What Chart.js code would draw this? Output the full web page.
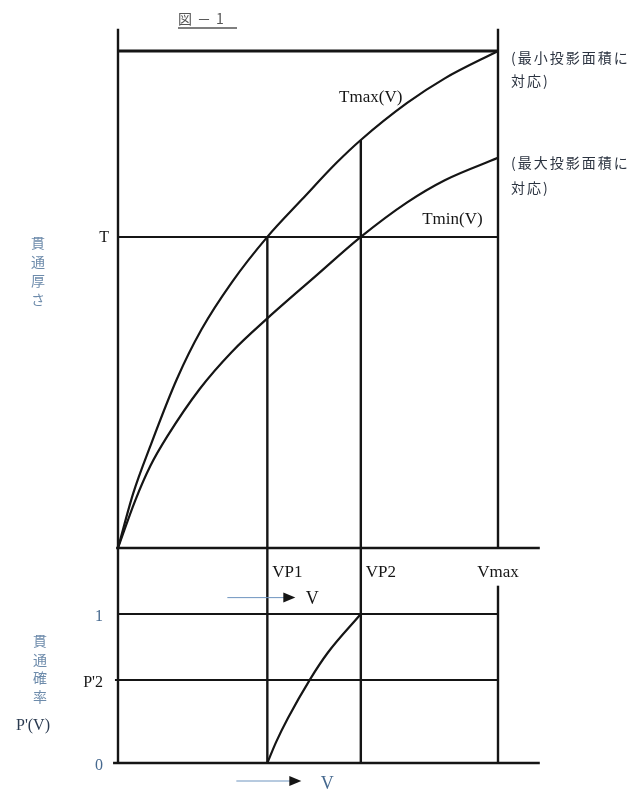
<!DOCTYPE html>
<html>
<head>
<meta charset="utf-8">
<title>図-1</title>
<script src="https://cdn.jsdelivr.net/npm/chart.js@4.4.0/dist/chart.umd.min.js"></script>
<style>
    html, body { margin: 0; padding: 0; background: #fff; }
    canvas { display: block; }
</style>
</head>
<body>
<canvas id="fig1" width="643" height="796"></canvas>
<script>

// 貫通厚さ curves, V runs from 0 to Vmax = 10
const tmaxV = [0, 0.4, 0.85, 1.55, 2.2, 3.0, 3.93, 4.85, 5.75, 6.39, 7.6, 8.6, 10]
const tmaxT = [0, 1.1, 2.05, 3.4, 4.4, 5.35, 6.26, 7.02, 7.75, 8.21, 8.95, 9.45, 10]

const tminV = [0, 0.45, 0.85, 1.3, 2.15, 3.0, 3.93, 5.2, 6.39, 7.6, 8.6, 10]
const tminT = [0, 0.95, 1.65, 2.25, 3.2, 3.95, 4.62, 5.47, 6.26, 6.95, 7.4, 7.85]

// 貫通確率 P'(V) between VP1 and VP2
const pV = [3.93, 4.16, 4.47, 5.05, 5.52, 6.39]
const pP = [0, 0.14, 0.3, 0.56, 0.74, 1.0]

// reference values / tick labels
const vTicks = [3.93, 6.39, 10]
const vTickLabels = ['VP1', 'VP2', 'Vmax']
const tTicks = [6.26]
const tTickLabels = ['T']
const pTicks = [1, 0.557, 0]
const pTickLabels = ['1', "P'2", '0']
const tTop = 10

const VP1 = vTicks[0], VP2 = vTicks[1], VMAX = vTicks[2]
const T = tTicks[0], P2 = pTicks[1]

const serif = '"Liberation Serif", "DejaVu Serif", serif'
const jp = '"Noto Sans CJK JP", sans-serif'
const ink = '#151515'
const blue = '#46698f'

function pts(xs, ys) {
    return xs.map((v, i) => ({ x: v, y: ys[i] }))
}

const drawFrame = {
    id: 'drawFrame',
    beforeDatasetsDraw(chart) {
        const ctx = chart.ctx
        const px = v => chart.scales.x.getPixelForValue(v)
        const pt = v => chart.scales.yT.getPixelForValue(v)
        const pp = v => chart.scales.yP.getPixelForValue(v)

        function line(x1, y1, x2, y2, w) {
            ctx.lineWidth = w
            ctx.beginPath()
            ctx.moveTo(x1, y1)
            ctx.lineTo(x2, y2)
            ctx.stroke()
        }

        ctx.save()
        ctx.strokeStyle = ink
        ctx.lineCap = 'butt'

        // upper chart
        line(px(0), pt(10.45), px(0), pp(0), 2.4)
        line(px(VMAX), pt(10.45), px(VMAX), pt(0), 2.4)
        line(px(0), pt(tTop), px(VMAX), pt(tTop), 3)
        line(px(0), pt(T), px(VMAX), pt(T), 2)
        line(px(-0.05), pt(0), px(11.1), pt(0), 2.4)
        line(px(VP1), pt(T), px(VP1), pp(0), 2.4)
        line(px(VP2), pt(tmaxT[tmaxV.indexOf(VP2)]), px(VP2), pp(0), 2.4)

        // lower chart
        line(px(0), pp(1), px(VMAX), pp(1), 2)
        line(px(-0.08), pp(P2), px(VMAX), pp(P2), 2)
        line(px(-0.13), pp(0), px(11.1), pp(0), 2.4)
        line(px(VMAX), pp(1.19), px(VMAX), pp(0), 2.4)
        ctx.restore()
    },
    afterDatasetsDraw(chart) {
        const ctx = chart.ctx
        const px = v => chart.scales.x.getPixelForValue(v)
        const pt = v => chart.scales.yT.getPixelForValue(v)
        const pp = v => chart.scales.yP.getPixelForValue(v)

        function text(s, x, y, font, color, align, spacing) {
            ctx.font = font
            ctx.fillStyle = color
            ctx.textAlign = align || 'left'
            ctx.textBaseline = 'middle'
            ctx.letterSpacing = spacing || '0px'
            ctx.fillText(s, x, y)
            ctx.letterSpacing = '0px'
        }
        function vertical(s, x, y, step, font, color) {
            for (let i = 0; i < s.length; i++) {
                text(s[i], x, y + i * step, font, color, 'center')
            }
        }
        function arrow(x1, x2, y) {
            ctx.strokeStyle = '#6f95bf'
            ctx.lineWidth = 1
            ctx.beginPath()
            ctx.moveTo(x1, y)
            ctx.lineTo(x2 - 10, y)
            ctx.stroke()
            ctx.fillStyle = ink
            ctx.beginPath()
            ctx.moveTo(x2, y)
            ctx.lineTo(x2 - 12, y - 5)
            ctx.lineTo(x2 - 12, y + 5)
            ctx.closePath()
            ctx.fill()
        }

        ctx.save()

        // title
        text('図－1', px(0) + 60, 19, '14px ' + jp, '#555', 'left', '5px')
        ctx.strokeStyle = '#555'
        ctx.lineWidth = 1.5
        ctx.beginPath()
        ctx.moveTo(px(0) + 60, 28)
        ctx.lineTo(px(0) + 119, 28)
        ctx.stroke()

        // curve names
        text('Tmax(V)', px(6.65), pt(9.07), '17px ' + serif, ink, 'center')
        text('Tmin(V)', px(8.8), pt(6.6), '17px ' + serif, ink, 'center')

        // right side notes
        const note = '14px ' + jp, noteInk = '#2b3340'
        text('(最小投影面積に', px(VMAX) + 13, pt(9.86), note, noteInk, 'left', '2px')
        text('対応)', px(VMAX) + 13, pt(9.4), note, noteInk, 'left', '2px')
        text('(最大投影面積に', px(VMAX) + 13, pt(7.75), note, noteInk, 'left', '2px')
        text('対応)', px(VMAX) + 13, pt(7.24), note, noteInk, 'left', '2px')

        // upper y axis
        tTicks.forEach((v, i) => text(tTickLabels[i], px(0) - 9, pt(v) + 1, '16px ' + serif, ink, 'right'))
        vertical('貫通厚さ', 38, pt(T) + 6, 19, '14px ' + jp, '#6d8bab')

        // V labels
        vTicks.forEach((v, i) => {
            const al = vTickLabels[i] == 'Vmax' ? 'center' : 'left'
            const off = al == 'center' ? 0 : 5
            text(vTickLabels[i], px(v) + off, pp(1.28), '17px ' + serif, ink, al)
        })
        arrow(px(VP1) - 40, px(VP1) + 28, pp(1.11))
        text('V', px(VP1) + 45, pp(1.11) + 2, '18px ' + serif, ink, 'center')

        // lower y axis
        pTicks.forEach((v, i) => {
            const c = pTickLabels[i] == "P'2" ? ink : blue
            text(pTickLabels[i], px(0) - 15, pp(v) + 3, '16px ' + serif, c, 'right')
        })
        vertical('貫通確率', 40, 641, 18.5, '14px ' + jp, '#6d8bab')
        text("P'(V)", 33, 726, '16px ' + serif, '#2a3a50', 'center')

        arrow(px(VP1) - 31, px(VP1) + 34, pp(0) + 18)
        text('V', px(VP1) + 60, pp(0) + 21, '18px ' + serif, blue, 'center')

        ctx.restore()
    }
}

const lineStyle = {
    borderColor: ink,
    borderWidth: 2.2,
    pointRadius: 0,
    fill: false,
    cubicInterpolationMode: 'monotone'
}

// pixels: V=0 -> 118, Vmax -> 498 ; T=0 -> 548, top -> 51 ; P=0 -> 763, P=1 -> 614
const W = 643, H = 796
const xPer = 38, tPer = 49.7, pPer = 149
const xMin = -118 / xPer
const tMax = 548 / tPer
const pMax = 763 / pPer

new Chart(document.getElementById('fig1'), {
    type: 'line',
    data: {
        datasets: [
            Object.assign({ label: 'Tmax(V)', data: pts(tmaxV, tmaxT), yAxisID: 'yT' }, lineStyle),
            Object.assign({ label: 'Tmin(V)', data: pts(tminV, tminT), yAxisID: 'yT' }, lineStyle),
            Object.assign({ label: "P'(V)", data: pts(pV, pP), yAxisID: 'yP' }, lineStyle)
        ]
    },
    options: {
        responsive: false,
        animation: false,
        layout: { padding: 0 },
        plugins: {
            legend: { display: false },
            tooltip: { enabled: false }
        },
        scales: {
            x: { type: 'linear', display: false, min: xMin, max: xMin + W / xPer },
            yT: { type: 'linear', display: false, min: tMax - H / tPer, max: tMax },
            yP: { type: 'linear', display: false, min: pMax - H / pPer, max: pMax }
        }
    },
    plugins: [drawFrame]
})

</script>
</body>
</html>
